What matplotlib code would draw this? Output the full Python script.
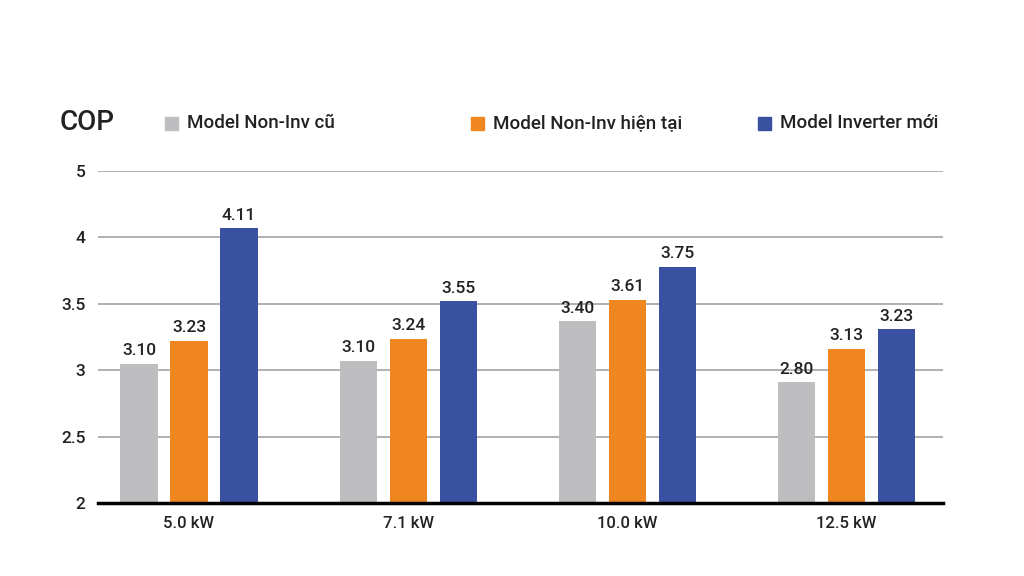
import numpy as np
import matplotlib.pyplot as plt
from matplotlib.patches import Rectangle

plt.rcParams['font.family'] = ['Roboto', 'DejaVu Sans']
plt.rcParams['font.weight'] = 'medium'

# Dữ liệu
capacities = ['5.0 kW', '7.1 kW', '10.0 kW', '12.5 kW']
series_names = ['Model Non-Inv cũ', 'Model Non-Inv hiện tại', 'Model Inverter mới']
# chiều cao cột (trục đã bị lệch so với nhãn)
old_noninv = [3.05, 3.07, 3.37, 2.91]
cur_noninv = [3.22, 3.235, 3.53, 3.16]
new_inv = [4.07, 3.52, 3.78, 3.31]
# nhãn số ghi trên cột
old_labels = ['3.10', '3.10', '3.40', '2.80']
cur_labels = ['3.23', '3.24', '3.61', '3.13']
new_labels = ['4.11', '3.55', '3.75', '3.23']
ytick_vals = [2, 2.5, 3, 3.5, 4, 4.5]
ytick_labels = ['2', '2.5', '3', '3.5', '4', '5']

colors = ['#BEBEC0', '#F0861F', '#3A51A2']
text_color = '#222222'

fig = plt.figure(figsize=(10.24, 5.76), dpi=100)
ax = fig.add_axes([0.0957, 0.1267, 0.8252, 0.5763])

x = np.arange(len(capacities))
width = 0.17
offset = 0.228

values = [old_noninv, cur_noninv, new_inv]
labels = [old_labels, cur_labels, new_labels]
for k in range(3):
    bars = ax.bar(x + (k - 1) * offset, np.array(values[k]) - 2, width, bottom=2,
                  color=colors[k], zorder=3)
    for b, lab in zip(bars, labels[k]):
        ax.annotate(lab, (b.get_x() + b.get_width() / 2, b.get_y() + b.get_height()),
                    xytext=(0, 4), textcoords='offset points', ha='center', va='bottom',
                    fontsize=12.5, color=text_color, zorder=4)

ax.set_xlim(-0.415, 3.44)
ax.set_ylim(2, 4.5)
ax.set_yticks(ytick_vals)
ax.set_yticklabels(ytick_labels)
ax.set_xticks(x)
ax.set_xticklabels(capacities)
ax.tick_params(axis='both', length=0, labelsize=12.5, colors=text_color)
ax.tick_params(axis='x', labelsize=12, pad=9)
ax.tick_params(axis='y', pad=9)
ax.yaxis.grid(True, color='#AAAAAA', linewidth=1.3, zorder=0)
ax.set_axisbelow(True)
for s in ['top', 'right', 'left']:
    ax.spines[s].set_visible(False)
ax.spines['bottom'].set_color('black')
ax.spines['bottom'].set_linewidth(2.5)
ax.spines['bottom'].set_zorder(5)

# Tiêu đề trục và chú thích
fig.text(60 / 1024, 1 - 123 / 576, 'COP', fontsize=20, color=text_color, va='center', ha='left')
leg_x = [165, 471, 758]
for k in range(3):
    fig.patches.append(Rectangle((leg_x[k] / 1024, 1 - 130 / 576), 13 / 1024, 13 / 576,
                                 transform=fig.transFigure, color=colors[k]))
    fig.text((leg_x[k] + 22) / 1024, 1 - 123 / 576, series_names[k], fontsize=13.5,
             color=text_color, va='center', ha='left')

fig.savefig('out.png', dpi=100, facecolor='white')
